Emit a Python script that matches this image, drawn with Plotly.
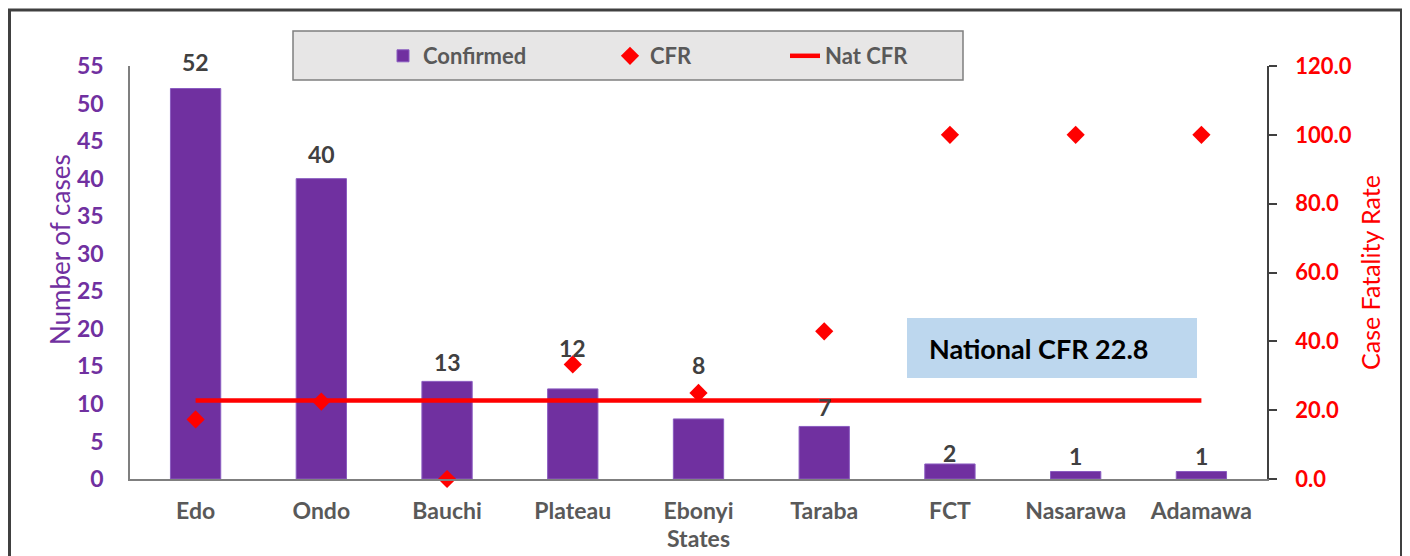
import plotly.graph_objects as go

states = ["Edo", "Ondo", "Bauchi", "Plateau", "Ebonyi", "Taraba", "FCT", "Nasarawa", "Adamawa"]
confirmed = [52, 40, 13, 12, 8, 7, 2, 1, 1]
cfr = [17.3, 22.5, 0.0, 33.3, 25.0, 42.9, 100.0, 100.0, 100.0]
nat_cfr_value = 22.8
nat_cfr = [nat_cfr_value] * len(states)

left_ticks = list(range(0, 56, 5))
right_ticks = [0, 20, 40, 60, 80, 100, 120]
right_tick_labels = [f"{v:.1f}" for v in right_ticks]

# extra lift (px) for data labels moved clear of the markers, as in the original
label_lift = {"Plateau": 22, "Ebonyi": 35, "Edo": 8, "Ondo": 6,
              "FCT": -8, "Nasarawa": -4, "Adamawa": -4}

FONT = "Lato"
PURPLE = "#7030A0"
RED = "#FF0000"
GRAY = "#595959"
DARK = "#404040"

# page offset (body margin) compensation
OFF = 8
W, H = 1410 - OFF, 556 - OFF
PLOT_L, PLOT_R, PLOT_T, PLOT_B = 130, 1267, 66, 479  # page pixel coords
L = PLOT_L - OFF
R = W - (PLOT_R - OFF)
T = PLOT_T - OFF
B = H - (PLOT_B - OFF)
pw, ph = PLOT_R - PLOT_L, PLOT_B - PLOT_T


def px(x):
    return (x - PLOT_L) / pw


def py(y):
    return (PLOT_B - y) / ph


fig = go.Figure()
fig.add_trace(go.Bar(
    x=states, y=confirmed, name="Confirmed",
    marker=dict(color=PURPLE, line=dict(color="#8a5cc0", width=1)),
    yaxis="y", legend="legend",
))
fig.add_trace(go.Scatter(
    x=states, y=cfr, name="CFR", mode="markers",
    marker=dict(symbol="diamond", size=14, color=RED),
    cliponaxis=False,
    yaxis="y2", legend="legend2",
))
fig.add_trace(go.Scatter(
    x=states, y=nat_cfr, name="Nat CFR", mode="lines",
    line=dict(color=RED, width=4.5),
    yaxis="y2", legend="legend3",
))

label_annotations = [
    dict(x=s, y=v, xref="x", yref="y", text=str(v), showarrow=False,
         yanchor="bottom", yshift=3 + label_lift.get(s, 0),
         font=dict(family=FONT, size=23, color=DARK, weight="bold"))
    for s, v in zip(states, confirmed)
]

legend_font = dict(family=FONT, size=22, color=GRAY, weight="bold")


def legend_at(xpage):
    return dict(
        orientation="h", x=px(xpage), y=py(56), xanchor="left", yanchor="middle",
        bgcolor="rgba(0,0,0,0)", borderwidth=0, font=legend_font,
    )


fig.update_layout(
    width=W, height=H,
    margin=dict(l=L, r=R, t=T, b=B, autoexpand=False),
    paper_bgcolor="white", plot_bgcolor="white",
    font=dict(family=FONT, color=GRAY),
    bargap=0.6,
    showlegend=True,
    legend=legend_at(383),
    legend2=legend_at(610),
    legend3=legend_at(785),
    xaxis=dict(
        showline=True, linecolor="#7f7f7f", linewidth=1.5,
        showgrid=False, ticks="",
        tickfont=dict(family=FONT, size=23, color=GRAY, weight="bold"),
        ticklabelstandoff=11,
        title=dict(text="States", standoff=0,
                   font=dict(family=FONT, size=23, color=GRAY, weight="bold")),
    ),
    yaxis=dict(
        range=[0, 55], tickvals=left_ticks,
        showline=True, linecolor="#7f7f7f", linewidth=1.5,
        showgrid=False, ticks="", zeroline=False,
        tickfont=dict(family=FONT, size=23, color=PURPLE, weight="bold"),
        ticklabelstandoff=20,
    ),
    yaxis2=dict(
        range=[0, 120], tickvals=right_ticks, ticktext=right_tick_labels,
        overlaying="y", side="right",
        showline=True, linecolor=DARK, linewidth=1.5,
        showgrid=False, ticks="outside", ticklen=8, tickcolor=DARK, tickwidth=1.5,
        zeroline=False,
        tickfont=dict(family=FONT, size=22, color=RED, weight="bold"),
        ticklabelstandoff=14,
        title=dict(text="Case Fatality Rate", standoff=12,
                   font=dict(family=FONT, size=25, color=RED)),
    ),
    shapes=[
        dict(type="rect", xref="paper", yref="paper",
             x0=px(9.5), x1=px(1401.5), y0=py(10), y1=py(600),
             line=dict(color=DARK, width=3), fillcolor="rgba(0,0,0,0)", layer="below"),
        dict(type="rect", xref="paper", yref="paper",
             x0=px(293), x1=px(963), y0=py(31), y1=py(80),
             line=dict(color="#7f7f7f", width=1.5), fillcolor="#E7E6E6", layer="below"),
        dict(type="rect", xref="paper", yref="paper",
             x0=px(907), x1=px(1197), y0=py(318), y1=py(378),
             line=dict(width=0), fillcolor="#BDD7EE", layer="below"),
    ],
    annotations=label_annotations + [
        dict(text="National CFR 22.8", xref="paper", yref="paper",
             x=px(927), y=py(348), xanchor="left", yanchor="middle",
             showarrow=False,
             font=dict(family=FONT, size=27, color="#000000", weight="bold")),
        dict(text="Number of cases", xref="paper", yref="paper",
             x=px(60), y=py(250), xanchor="center", yanchor="middle",
             textangle=-90, showarrow=False,
             font=dict(family=FONT, size=26, color=PURPLE)),
    ],
)

fig.write_html("out.html")
